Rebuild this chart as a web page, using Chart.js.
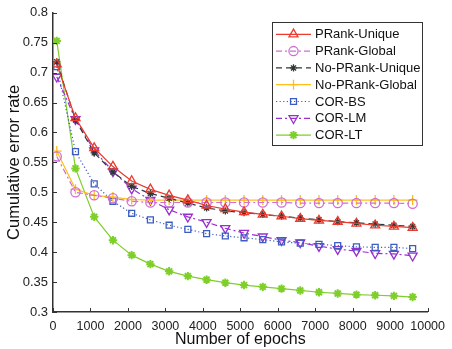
<!DOCTYPE html>
<html>
<head>
<meta charset="utf-8">
<script src="https://cdn.jsdelivr.net/npm/chart.js@4/dist/chart.umd.min.js"></script>
<style>
html,body{margin:0;padding:0;background:#fff;}
#wrap{width:452px;height:349px;position:relative;}
</style>
</head>
<body>
<div id="wrap"><canvas id="c" width="452" height="349"></canvas></div>
<script>
const epochs = [100,600,1100,1600,2100,2600,3100,3600,4100,4600,5100,5600,6100,6600,7100,7600,8100,8600,9100,9600];
const prankUnique   = [0.714,0.624,0.574,0.543,0.519,0.505,0.495,0.487,0.478,0.472,0.467,0.463,0.460,0.456,0.453,0.451,0.448,0.445,0.443,0.441];
const prankGlobal   = [0.560,0.500,0.495,0.490,0.485,0.483,0.483,0.483,0.483,0.483,0.483,0.483,0.483,0.482,0.482,0.482,0.482,0.482,0.482,0.481];
const noPrankUnique = [0.718,0.621,0.566,0.534,0.510,0.498,0.490,0.482,0.474,0.469,0.466,0.463,0.460,0.457,0.454,0.451,0.449,0.447,0.445,0.443];
const noPrankGlobal = [0.569,0.505,0.495,0.492,0.488,0.487,0.487,0.487,0.487,0.487,0.487,0.487,0.487,0.487,0.487,0.487,0.487,0.487,0.487,0.487];
const corBS         = [0.710,0.568,0.514,0.485,0.465,0.454,0.445,0.438,0.431,0.427,0.424,0.421,0.417,0.415,0.413,0.411,0.409,0.408,0.408,0.406];
const corLM         = [0.693,0.622,0.570,0.535,0.506,0.487,0.471,0.459,0.450,0.440,0.432,0.426,0.420,0.416,0.410,0.405,0.402,0.398,0.397,0.394];
const corLT         = [0.753,0.540,0.459,0.420,0.395,0.380,0.368,0.360,0.354,0.349,0.345,0.342,0.339,0.336,0.333,0.331,0.329,0.328,0.327,0.325];
const seriesNames = ['PRank-Unique','PRank-Global','No-PRank-Unique','No-PRank-Global','COR-BS','COR-LM','COR-LT'];
const xTicks = [0,1000,2000,3000,4000,5000,6000,7000,8000,9000,10000];
const yTicks = [0.3,0.35,0.4,0.45,0.5,0.55,0.6,0.65,0.7,0.75,0.8];

const toPts = arr => arr.map((v,i)=>({x:epochs[i],y:v}));
const styles = [
  {c:'#ea3b2e', dash:[], ps:'triangle', rot:0, r:5.2},
  {c:'#cf6fd4', dash:[6,3,2,3], ps:'circle', rot:0, r:4.6},
  {c:'#2e3838', dash:[6,4], ps:'star', rot:0, r:3.6},
  {c:'#ffbf1a', dash:[], ps:'cross', rot:0, r:5},
  {c:'#3d5cc0', dash:[1.2,2.4], ps:'rect', rot:0, r:4.2},
  {c:'#9a2fcf', dash:[6,3,2,3], ps:'triangle', rot:180, r:5.2},
  {c:'#7fcf2a', dash:[], ps:'star', rot:0, r:4.2}
];
const all = [prankUnique,prankGlobal,noPrankUnique,noPrankGlobal,corBS,corLM,corLT];
const datasets = all.map((arr,i)=>({
  label: seriesNames[i],
  data: toPts(arr),
  borderColor: styles[i].c,
  backgroundColor: 'transparent',
  borderWidth: 1.2,
  borderDash: styles[i].dash,
  pointStyle: styles[i].ps,
  pointRotation: styles[i].rot,
  pointRadius: styles[i].r,
  pointBorderWidth: i===6 ? 2 : 1.3,
  pointBorderColor: styles[i].c,
  pointBackgroundColor: 'transparent',
  tension: 0
}));

const legendPlugin = {
  id:'customLegend',
  afterDraw(chart){
    const ctx = chart.ctx;
    const bx=272.5, by=22.5, bw=150, bh=123;
    ctx.save();
    ctx.fillStyle='#fff';
    ctx.fillRect(bx,by,bw,bh);
    ctx.strokeStyle='#333';
    ctx.lineWidth=1;
    ctx.setLineDash([]);
    ctx.strokeRect(bx,by,bw,bh);
    const rowH=16.8, y0=34.3;
    chart.data.datasets.forEach((ds,i)=>{
      const y=y0+i*rowH;
      ctx.save();
      ctx.strokeStyle=ds.borderColor;
      ctx.lineWidth=1.2;
      ctx.setLineDash(ds.borderDash);
      ctx.beginPath();ctx.moveTo(276,y);ctx.lineTo(311,y);ctx.stroke();
      ctx.setLineDash([]);
      ctx.lineWidth=ds.pointBorderWidth;
      ctx.fillStyle='rgba(0,0,0,0)';
      Chart.helpers.drawPoint(ctx,{pointStyle:ds.pointStyle,rotation:ds.pointRotation,radius:ds.pointRadius,borderWidth:ds.pointBorderWidth},293.5,y);
      ctx.restore();
      ctx.fillStyle='#111';
      ctx.font='13px "Liberation Sans", Arial, sans-serif';
      ctx.textBaseline='middle';
      ctx.textAlign='left';
      ctx.fillText(ds.label,315,y+0.5);
    });
    ctx.restore();
  }
};

const tickPlugin = {
  id:'inTicks',
  afterDatasetsDraw(chart){
    const ctx=chart.ctx, xs=chart.scales.x, ys=chart.scales.y, a=chart.chartArea;
    ctx.save();
    ctx.strokeStyle='#333';ctx.lineWidth=1;ctx.setLineDash([]);
    xTicks.forEach(v=>{const px=Math.round(xs.getPixelForValue(v))+0.5;ctx.beginPath();ctx.moveTo(px,a.bottom);ctx.lineTo(px,a.bottom-4);ctx.stroke();});
    yTicks.forEach(v=>{const py=Math.round(ys.getPixelForValue(v))+0.5;ctx.beginPath();ctx.moveTo(a.left,py);ctx.lineTo(a.left+4,py);ctx.stroke();});
    ctx.restore();
  }
};

new Chart(document.getElementById('c'),{
  type:'line',
  data:{datasets},
  options:{
    responsive:false,
    animation:false,
    layout:{padding:{top:12,right:19,left:0,bottom:0}},
    plugins:{legend:{display:false},tooltip:{enabled:false}},
    scales:{
      x:{
        type:'linear',min:0,max:10000,
        afterBuildTicks:s=>{s.ticks=xTicks.map(v=>({value:v}));},
        afterFit:s=>{s.height=37;},
        ticks:{autoSkip:false,maxRotation:0,padding:7,color:'#222',font:{family:'"Liberation Sans Narrow", "Liberation Sans", Arial',size:12.5},callback:v=>String(v)},
        grid:{drawOnChartArea:false,drawTicks:false},
        border:{display:true,color:'#333',width:1.5},
        title:{display:true,text:'Number of epochs',color:'#111',font:{family:'"Liberation Sans", Arial',size:16},padding:{top:0,bottom:0}}
      },
      y:{
        type:'linear',min:0.3,max:0.8,
        afterBuildTicks:s=>{s.ticks=yTicks.map(v=>({value:v}));},
        afterFit:s=>{s.width=53;},
        ticks:{autoSkip:false,padding:5,color:'#222',font:{family:'"Liberation Sans", Arial',size:13},callback:v=>String(Math.round(v*100)/100)},
        grid:{drawOnChartArea:false,drawTicks:false},
        border:{display:true,color:'#333',width:1.5},
        title:{display:true,text:'Cumulative error rate',color:'#111',font:{family:'"Liberation Sans", Arial',size:16.5},padding:{top:5,bottom:0}}
      }
    }
  },
  plugins:[tickPlugin,legendPlugin]
});
</script>
</body>
</html>
